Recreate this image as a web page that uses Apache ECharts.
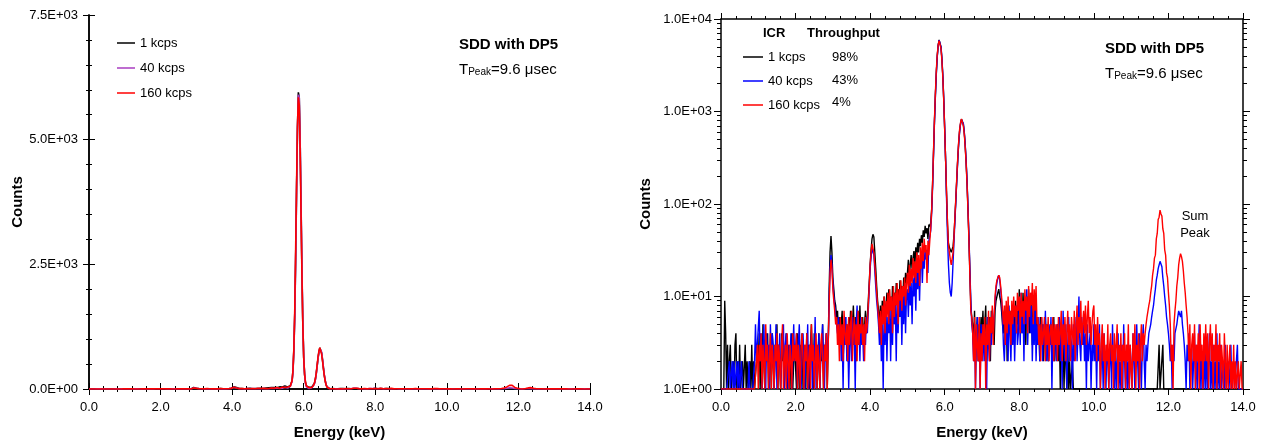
<!DOCTYPE html>
<html><head><meta charset="utf-8">
<script src="https://cdn.jsdelivr.net/npm/echarts@6/dist/echarts.min.js"></script>
<style>html,body{margin:0;padding:0;background:#fff}#c{width:1265px;height:445px}</style>
</head><body><div id="c"></div>
<script>
// MCA calibration: energy of point i = ENERGY_START + i*ENERGY_STEP (keV)
const ENERGY_START = 0, ENERGY_STEP = 0.025;
const seriesNames = ['1 kcps', '40 kcps', '160 kcps'];
const throughput = ['98%', '43%', '4%'];

// counts per 0.025 keV point, one row per keV (40 points)
const counts1k = [
  1,1,1,1,9,4,1,3,1,2,3,1,1,2,1,3,4,1,2,1,3,1,1,2,1,1,3,1,2,1,1,2,1,3,1,2,1,1,2,3,
  2,4,1,3,1,5,2,1,3,2,4,1,2,3,1,4,2,1,3,2,5,1,3,2,1,4,2,3,1,2,4,1,3,2,1,3,4,1,2,3,
  3,1,4,2,1,3,2,4,1,3,2,1,4,2,3,1,3,5,2,1,4,2,3,1,2,4,1,3,2,5,1,3,2,4,1,3,12,30,45,30,
  16,12,9,8,6,7,4,6,3,5,7,2,4,6,3,5,2,6,4,7,3,5,8,4,6,2,5,7,3,8,4,5,6,3,5,7,4,6,9,14,
  22,32,42,47,44,30,20,13,9,7,5,8,4,9,6,10,5,8,11,7,12,8,10,6,13,9,11,7,14,10,12,8,15,11,13,9,16,12,18,14,
  18,25,16,22,28,20,26,31,22,34,27,38,30,42,35,46,38,52,44,58,48,55,42,60,57,63,88,166,360,787,1500,2618,3970,5213,5950,5845,4990,3694,2370,1316,
  632,294,125,60,38,34,32,30,30,35,47,72,116,190,307,460,617,740,825,810,728,590,428,280,167,85,42,18,8,6,5,3,7,2,4,6,2,5,3,6,
  4,7,3,5,8,2,5,3,6,2,7,4,5,3,7,9,10,11,12,10,9,7,5,4,7,3,8,2,6,4,7,3,8,5,6,3,9,4,7,5,
  12,5,9,4,11,6,8,3,10,5,12,4,7,9,3,8,5,10,4,6,3,5,2,6,4,5,2,4,6,3,5,2,4,3,5,2,4,6,2,4,
  3,5,2,4,1,3,2,4,1,3,2,1,3,1,2,1,1,2,1,1,1,1,1,1,1,1,1,1,1,1,1,1,1,1,1,1,1,1,1,1,
  1,1,1,1,1,1,1,1,1,1,1,1,1,1,1,1,1,1,1,1,1,1,1,1,1,1,1,1,1,1,1,1,1,1,1,1,1,1,1,1,
  1,1,1,1,1,1,1,1,1,1,1,1,1,1,1,1,1,1,1,1,1,1,1,1,1,1,1,1,1,1,3,1,1,1,3,1,1,1,1,1,
  1,1,1,1,1,1,1,1,1,1,1,1,1,1,1,1,1,1,1,1,1,1,1,1,1,1,1,1,1,1,1,1,1,1,1,1,1,1,1,1,
  1,1,1,1,1,1,1,1,1,1,1,1,1,1,1,1,1,1,1,1,1,1,1,1,1,1,1,1,1,1,1,1,1,1,1,1,1,1,1,1,
  1
];
const counts40k = [
  1,1,1,1,1,1,1,1,1,2,1,1,2,1,2,1,1,2,1,2,1,1,2,1,1,1,1,1,1,1,2,1,1,1,1,1,2,5,2,3,
  3,7,2,4,1,3,5,2,1,4,2,3,1,5,2,4,3,1,2,5,1,3,2,4,1,2,3,5,1,3,4,2,1,3,2,4,1,2,5,2,
  2,4,1,3,5,2,1,3,4,2,1,3,2,5,1,3,2,4,1,3,2,6,1,3,2,4,1,2,3,5,2,1,3,4,2,3,9,20,28,22,
  14,10,8,6,5,4,6,3,5,2,4,1,5,3,6,2,4,1,3,5,2,6,3,4,1,5,8,3,5,2,6,3,4,2,5,3,6,4,7,12,
  20,27,33,32,28,19,13,9,7,5,3,6,2,5,1,7,3,8,2,6,4,9,2,7,3,10,5,8,2,11,4,9,6,12,3,10,5,13,4,11,
  12,6,15,8,14,5,16,10,18,7,20,12,24,9,22,30,14,28,20,36,25,32,18,40,45,52,80,150,340,760,1450,2550,3900,5150,5900,5850,5000,3750,2450,1350,
  650,290,110,45,22,14,11,10,14,24,40,68,110,185,300,450,610,735,815,820,740,600,440,290,175,90,45,20,9,5,4,2,5,1,3,6,2,4,1,5,
  3,2,5,2,4,1,6,3,2,5,3,7,4,6,9,12,14,16,17,15,12,9,6,3,2,5,3,6,2,8,4,2,6,3,7,2,5,8,3,4,
  9,3,11,4,8,2,10,5,12,3,7,10,4,8,2,6,3,9,2,5,3,6,2,4,6,2,5,3,7,2,4,2,5,3,6,1,4,2,5,3,
  2,5,3,6,2,4,1,7,3,2,5,1,3,6,2,4,3,1,5,2,3,6,2,4,10,3,2,6,3,5,2,4,1,5,2,3,4,1,3,2,
  5,2,3,1,4,2,5,1,2,3,1,4,2,1,3,2,1,2,3,1,5,2,1,3,1,2,4,1,2,1,3,1,5,2,1,3,1,2,1,3,
  3,1,4,2,1,3,5,2,1,4,2,1,3,5,2,1,3,2,3,4,4,5,6,7,8,10,12,15,17,20,22,24,24,21,16,13,10,8,6,5,
  4,3,2,3,1,3,2,4,4,5,6,7,7,6,7,5,4,3,2,1,3,2,4,1,2,3,1,2,4,1,3,1,2,5,1,3,1,2,1,3,
  1,3,1,2,4,1,2,1,3,1,2,1,4,1,2,1,3,1,1,2,1,3,1,1,2,1,1,3,1,1,2,1,1,1,3,1,1,1,1,1,
  1
];
const counts160k = [
  1,1,1,1,1,1,1,1,1,1,1,1,1,1,1,1,1,1,1,1,1,1,1,1,1,1,1,1,1,1,1,1,1,1,1,1,1,1,2,3,
  1,3,2,4,1,3,2,1,5,2,3,1,2,4,1,3,2,1,3,2,4,1,3,2,1,3,5,1,2,3,1,4,2,1,3,2,1,4,2,3,
  2,4,1,3,2,1,3,4,2,1,3,2,4,1,2,3,1,5,2,3,1,2,4,1,3,2,1,3,4,2,1,3,2,4,1,3,8,18,25,20,
  12,9,7,5,6,3,5,2,6,3,5,2,7,4,3,5,2,6,3,5,7,2,4,6,3,5,2,7,3,5,4,6,3,5,2,6,4,5,8,13,
  22,30,37,36,30,22,16,11,8,6,4,7,3,8,5,10,4,9,6,11,5,12,7,10,4,13,6,11,8,14,5,12,9,15,7,13,10,16,8,14,
  18,11,22,13,20,14,26,16,24,14,30,18,28,13,34,20,38,24,42,30,36,14,40,28,40,55,85,170,380,820,1600,2800,4100,5250,5850,5700,4800,3550,2300,1280,
  620,290,130,62,36,30,25,22,23,30,45,75,120,200,320,480,640,760,830,800,700,570,410,270,160,82,40,17,7,6,4,2,6,1,5,3,2,6,1,4,
  2,5,3,6,1,5,3,7,2,6,4,8,3,6,10,13,15,16,17,16,13,10,7,5,8,3,9,4,10,5,7,3,9,5,10,6,8,4,11,7,
  10,4,11,6,9,5,12,7,10,4,13,6,11,8,14,5,12,7,13,5,6,3,5,2,6,3,4,6,2,5,3,6,2,4,5,3,6,2,5,3,
  5,2,6,3,4,7,2,5,3,6,2,4,7,3,5,2,6,4,3,7,2,5,8,3,6,4,9,3,5,7,4,8,3,6,9,4,6,3,5,7,
  8,3,5,2,6,3,4,1,3,5,2,4,1,3,2,5,1,3,4,2,3,1,4,2,3,5,1,3,2,4,1,3,2,4,1,3,2,5,1,3,
  3,1,4,2,5,1,3,2,4,1,3,5,2,4,3,4,5,6,6,8,9,11,13,17,20,26,28,42,48,68,72,86,78,74,54,48,32,28,18,16,
  11,8,5,2,3,1,5,7,9,13,16,22,26,29,27,24,19,14,11,8,6,4,2,5,1,3,4,2,5,1,3,2,4,1,5,2,3,1,4,2,
  5,2,4,1,3,5,2,4,1,3,2,5,1,3,2,4,1,3,2,1,4,2,1,3,1,2,3,1,2,1,3,1,2,1,1,2,1,1,2,1,
  1
];

const xTickLabels = ['0.0','2.0','4.0','6.0','8.0','10.0','12.0','14.0'];
const linTickLabels = ['0.0E+00','2.5E+03','5.0E+03','7.5E+03'];
const logTickLabels = ['1.0E+00','1.0E+01','1.0E+02','1.0E+03','1.0E+04'];
const logMinorTicks = [2,3,4,5,6,7,8,9,20,30,40,50,60,70,80,90,200,300,400,500,600,700,800,900,2000,3000,4000,5000,6000,7000,8000,9000];

const FONT = '"Liberation Sans", Arial, sans-serif';
const colorsLeft = ['#000000', '#a83cc0', '#ff0000'];
const colorsRight = ['#000000', '#0000ff', '#ff0000'];
const allCounts = [counts1k, counts40k, counts160k];

function pts(arr) {
  return arr.map((v, i) => [+(ENERGY_START + i * ENERGY_STEP).toFixed(3), v]);
}

const axisLine = { show: true, lineStyle: { color: '#000', width: 1.5 } };
const tickStyle = { color: '#000', width: 1 };
const labelStyle = { color: '#000', fontSize: 13, fontFamily: FONT };
const nameStyle = { color: '#000', fontSize: 15, fontWeight: 'bold', fontFamily: FONT };

function xAx(grid, pos, withLabels) {
  return {
    type: 'value', gridIndex: grid, position: pos, min: 0, max: 14, interval: 2,
    axisLine: axisLine,
    axisTick: { show: true, length: 6, lineStyle: tickStyle },
    minorTick: { show: true, splitNumber: 5, length: 3, lineStyle: tickStyle },
    splitLine: { show: false }, minorSplitLine: { show: false },
    axisLabel: withLabels ? Object.assign({ margin: 12, formatter: v => xTickLabels[Math.round(v / 2)] }, labelStyle) : { show: false },
    name: withLabels ? 'Energy (keV)' : '', nameLocation: 'middle', nameGap: 36, nameTextStyle: nameStyle
  };
}

const legendText = { fontSize: 13, color: '#000', fontFamily: FONT, lineHeight: 14 };

const option = {
  animation: false,
  backgroundColor: '#fff',
  textStyle: { fontFamily: FONT },
  grid: [
    { left: 89, top: 15, width: 501, height: 375 },
    { left: 721, top: 19, width: 522, height: 372 }
  ],
  xAxis: [xAx(0, 'bottom', true), xAx(0, 'top', false), xAx(1, 'bottom', true), xAx(1, 'top', false)],
  yAxis: [
    {
      type: 'value', gridIndex: 0, position: 'left', min: 0, max: 7500, interval: 2500,
      axisLine: axisLine,
      axisTick: { show: true, length: 6, lineStyle: tickStyle },
      minorTick: { show: true, splitNumber: 5, length: 3, lineStyle: tickStyle },
      splitLine: { show: false }, minorSplitLine: { show: false },
      axisLabel: Object.assign({ margin: 11, formatter: v => linTickLabels[Math.round(v / 2500)] }, labelStyle),
      name: 'Counts', nameLocation: 'middle', nameGap: 64, nameRotate: 90, nameTextStyle: nameStyle
    },
    {
      type: 'value', gridIndex: 0, position: 'right', min: 0, max: 7500, interval: 2500,
      axisLine: axisLine,
      axisTick: { show: true, length: 6, lineStyle: tickStyle },
      minorTick: { show: true, splitNumber: 5, length: 3, lineStyle: tickStyle },
      splitLine: { show: false }, minorSplitLine: { show: false },
      axisLabel: { show: false }
    },
    {
      type: 'log', logBase: 10, gridIndex: 1, position: 'left', min: 1, max: 10000,
      axisLine: axisLine,
      axisTick: { show: true, length: 7, lineStyle: tickStyle },
      splitLine: { show: false },
      axisLabel: Object.assign({ margin: 9, formatter: v => logTickLabels[Math.round(Math.log10(v))] }, labelStyle),
      name: 'Counts', nameLocation: 'middle', nameGap: 68, nameRotate: 90, nameTextStyle: nameStyle
    },
    {
      type: 'log', logBase: 10, gridIndex: 1, position: 'left', min: 1, max: 10000,
      axisLine: { show: false },
      axisTick: { show: true, length: 4, lineStyle: tickStyle, customValues: logMinorTicks },
      splitLine: { show: false }, axisLabel: { show: false }
    },
    {
      type: 'log', logBase: 10, gridIndex: 1, position: 'right', min: 1, max: 10000,
      axisLine: axisLine,
      axisTick: { show: true, length: 7, lineStyle: tickStyle },
      splitLine: { show: false }, axisLabel: { show: false }
    },
    {
      type: 'log', logBase: 10, gridIndex: 1, position: 'right', min: 1, max: 10000,
      axisLine: { show: false },
      axisTick: { show: true, length: 4, lineStyle: tickStyle, customValues: logMinorTicks },
      splitLine: { show: false }, axisLabel: { show: false }
    }
  ],
  legend: [
    {
      orient: 'vertical', left: 112, top: 31, itemWidth: 18, itemHeight: 1.5, itemGap: 11, icon: 'rect',
      selectedMode: false, textStyle: legendText,
      data: seriesNames.map((n, i) => ({ name: n, icon: 'rect', itemStyle: { color: colorsLeft[i] } }))
    },
    {
      orient: 'vertical', left: 738, top: 45, itemWidth: 20, itemHeight: 1.5, itemGap: 10, icon: 'rect',
      selectedMode: false, textStyle: legendText,
      data: seriesNames.map((n, i) => ({ name: n, icon: 'rect', itemStyle: { color: colorsRight[i] } }))
    }
  ],
  series: [],
  graphic: []
};

seriesNames.forEach((n, i) => {
  option.series.push({
    name: n, type: 'line', xAxisIndex: 0, yAxisIndex: 0, symbol: 'none', showSymbol: false,
    data: pts(allCounts[i]), lineStyle: { color: colorsLeft[i], width: 1.6 }, itemStyle: { color: colorsLeft[i] }, z: 2 + i
  });
});
seriesNames.forEach((n, i) => {
  option.series.push({
    name: n, type: 'line', xAxisIndex: 2, yAxisIndex: 2, symbol: 'none', showSymbol: false,
    data: pts(allCounts[i]), lineStyle: { color: colorsRight[i], width: 1.4 }, itemStyle: { color: colorsRight[i] }, z: 2 + i
  });
});

const richT = {
  t: { fontSize: 15, fontFamily: FONT, color: '#000', lineHeight: 18, verticalAlign: 'bottom' },
  s: { fontSize: 10, fontFamily: FONT, color: '#000', lineHeight: 10, verticalAlign: 'bottom' }
};
function titleBlock(x, y1, y2) {
  return [
    { type: 'text', x: x, y: y1, style: { text: 'SDD with DP5', font: 'bold 15px ' + FONT, fill: '#000', verticalAlign: 'middle' } },
    { type: 'text', x: x, y: y2, style: { text: '{t|T}{s|Peak}{t|=9.6 μsec}', rich: richT, verticalAlign: 'middle' } }
  ];
}
option.graphic.push(...titleBlock(459, 45, 68));
option.graphic.push(...titleBlock(1105, 49, 72));
option.graphic.push({ type: 'text', x: 763, y: 33, style: { text: 'ICR', font: 'bold 13px ' + FONT, fill: '#000', verticalAlign: 'middle' } });
option.graphic.push({ type: 'text', x: 807, y: 33, style: { text: 'Throughput', font: 'bold 13px ' + FONT, fill: '#000', verticalAlign: 'middle' } });
[57, 80, 102].forEach((y, i) => {
  option.graphic.push({ type: 'text', x: 832, y: y, style: { text: throughput[i], font: '13px ' + FONT, fill: '#000', verticalAlign: 'middle' } });
});
option.graphic.push({ type: 'text', x: 1195, y: 225, style: { text: 'Sum\nPeak', font: '13px ' + FONT, fill: '#000', align: 'center', verticalAlign: 'middle', lineHeight: 17 } });

const chart = echarts.init(document.getElementById('c'), null, { renderer: 'canvas' });
chart.setOption(option);
</script>
</body></html>
